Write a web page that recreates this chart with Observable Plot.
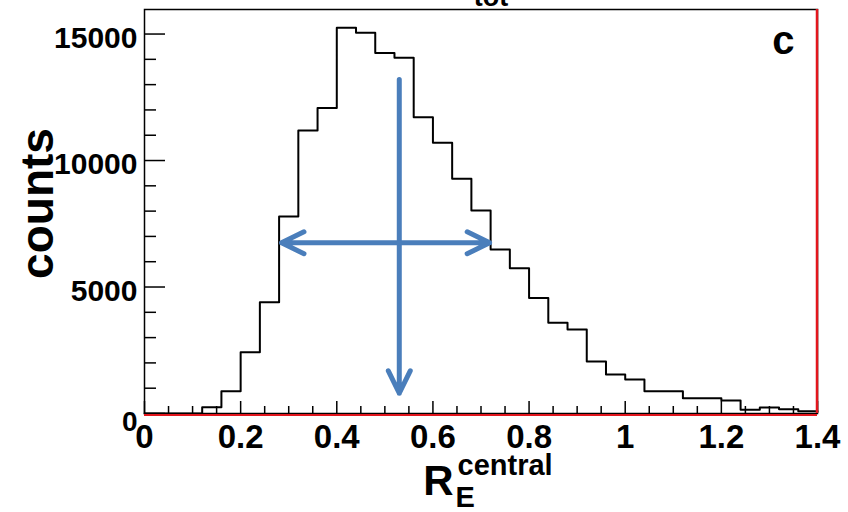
<!DOCTYPE html>
<html>
<head>
<meta charset="utf-8">
<script src="https://cdn.jsdelivr.net/npm/d3@7"></script>
<script src="https://cdn.jsdelivr.net/npm/@observablehq/plot@0.6"></script>
<style>
  html, body { margin: 0; padding: 0; background: #fff; overflow: hidden; }
  #chart svg { display: block; }
</style>
</head>
<body>
<div id="chart"></div>
<script>
// Histogram bins (low edges) and counts
const binLowEdges = [0.00,0.04,0.08,0.12,0.16,0.20,0.24,0.28,0.32,0.36,0.40,0.44,0.48,0.52,0.56,0.60,0.64,0.68,0.72,0.76,0.80,0.84,0.88,0.92,0.96,1.00,1.04,1.08,1.12,1.16,1.20,1.24,1.28,1.32,1.36];
const binWidth = 0.04;
const counts = [0,0,0,250,880,2420,4400,7790,11190,12080,15245,15050,14255,14060,11710,10700,9275,8025,6480,5745,4570,3585,3320,2055,1540,1345,880,880,605,605,515,146,237,170,90];

// Axis ticks and labels
const xMajorTicks = [0,0.2,0.4,0.6,0.8,1.0,1.2,1.4];
const xTickLabels = ["0","0.2","0.4","0.6","0.8","1","1.2","1.4"];
const xMinorTicks = [0.05,0.1,0.15,0.25,0.3,0.35,0.45,0.5,0.55,0.65,0.7,0.75,0.85,0.9,0.95,1.05,1.1,1.15,1.25,1.3,1.35];
const yMajorTicks = [0,5000,10000,15000];
const yTickLabels = ["0","5000","10000","15000"];
const yMinorTicks = [1000,2000,3000,4000,6000,7000,8000,9000,11000,12000,13000,14000];

// Annotation arrows (data coordinates)
const arrowX1 = [0.530, 0.530, 0.530];
const arrowY1 = [13200, 6750, 6750];
const arrowX2 = [0.530, 0.285, 0.718];
const arrowY2 = [800, 6750, 6750];

// Step outline built from bins
const steps = binLowEdges.map((x, i) => ({x, y: counts[i]}));
steps.push({x: binLowEdges[binLowEdges.length - 1] + binWidth, y: counts[counts.length - 1]});

const W = 848, H = 512;
const mL = 144, mR = 31, mT = 9, mB = 99;
const plotW = W - mL - mR, plotH = H - mT - mB;
const red = "#e3161d";
const blue = "#4a7ebb";
const bold = {fontWeight: "bold"};

const chart = Plot.plot({
  width: W, height: H,
  marginLeft: mL, marginRight: mR, marginTop: mT, marginBottom: mB,
  x: {domain: [0, 1.4], axis: null},
  y: {domain: [0, 15970], axis: null},
  style: {fontFamily: "'Liberation Sans', Arial, Helvetica, sans-serif", background: "white"},
  marks: [
    Plot.frame({stroke: "black", strokeWidth: 1.5}),
    // inner ticks
    Plot.tickY(yMinorTicks, {y: d => d, insetRight: plotW - 12, stroke: "black", strokeWidth: 1.5}),
    Plot.tickY(yMajorTicks, {y: d => d, insetRight: plotW - 21, stroke: "black", strokeWidth: 1.5}),
    Plot.tickX(xMinorTicks, {x: d => d, insetTop: plotH - 7, stroke: "black", strokeWidth: 1.5}),
    Plot.tickX(xMajorTicks, {x: d => d, insetTop: plotH - 12, stroke: "black", strokeWidth: 1.5}),
    // histogram outline
    Plot.line(steps, {x: "x", y: "y", curve: "step-after", stroke: "black", strokeWidth: 2}),
    // red baseline and right edge
    Plot.ruleY([0], {stroke: red, strokeWidth: 2, dy: 1.5}),
    Plot.ruleX([1.4], {stroke: red, strokeWidth: 2.5, dx: -0.5}),
    // annotation arrows
    Plot.arrow(arrowX1, {x1: arrowX1, y1: arrowY1, x2: arrowX2, y2: arrowY2, stroke: blue, strokeWidth: 5, headAngle: 52, headLength: 7.5}),
    // tick labels
    Plot.text(yMajorTicks.slice(1), {y: d => d, text: (d, i) => yTickLabels[i + 1], frameAnchor: "left", textAnchor: "end", dx: -7, dy: 4, fontSize: 30, ...bold}),
    Plot.text(yMajorTicks.slice(0, 1), {y: d => d, text: (d, i) => yTickLabels[i], frameAnchor: "left", textAnchor: "end", dx: -7, dy: 9, fontSize: 28, ...bold}),
    Plot.text(xMajorTicks, {x: d => d, text: (d, i) => xTickLabels[i], frameAnchor: "bottom", lineAnchor: "bottom", dy: 34, fontSize: 33, ...bold}),
    // axis titles
    Plot.text(["counts"], {text: d => d, frameAnchor: "left", rotate: -90, textAnchor: "middle", lineAnchor: "bottom", dx: -92, dy: -8, fontSize: 46, ...bold}),
    Plot.text(["R"], {text: d => d, frameAnchor: "bottom", textAnchor: "middle", lineAnchor: "bottom", dx: -42.5, dy: 81, fontSize: 42, ...bold}),
    Plot.text(["central"], {text: d => d, frameAnchor: "bottom", textAnchor: "start", lineAnchor: "bottom", dx: -23.5, dy: 61, fontSize: 29, ...bold}),
    Plot.text(["E"], {text: d => d, frameAnchor: "bottom", textAnchor: "start", lineAnchor: "bottom", dx: -25.5, dy: 93, fontSize: 29, ...bold}),
    // panel label and (cut) title
    Plot.text(["c"], {text: d => d, frameAnchor: "top-right", textAnchor: "end", lineAnchor: "bottom", dx: -23, dy: 44, fontSize: 40, ...bold}),
    Plot.text(["tot"], {text: d => d, frameAnchor: "top", textAnchor: "middle", lineAnchor: "bottom", dx: 10, dy: -4, fontSize: 27, ...bold})
  ]
});
document.getElementById("chart").append(chart);
</script>
</body>
</html>
